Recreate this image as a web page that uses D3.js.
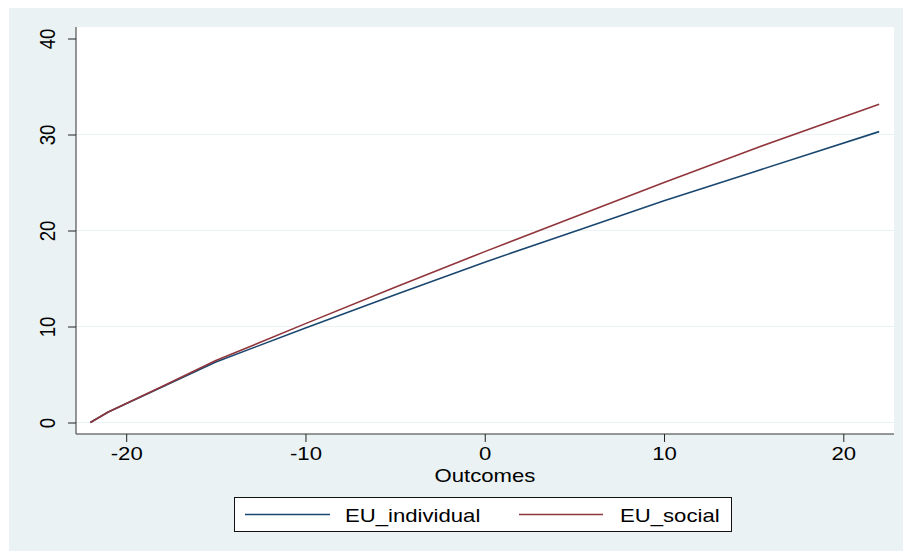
<!DOCTYPE html>
<html><head><meta charset="utf-8">
<script src="https://cdn.jsdelivr.net/npm/d3@7"></script>
<style>body{margin:0;background:#fff;}svg{display:block;font-family:"Liberation Sans",Arial,sans-serif;}</style>
</head><body><svg id="c" width="903" height="551"></svg>
<script>
const outcomes = [-22, -21, -18, -15, -10, -5, 0, 5, 10, 15, 22];
const euIndividual = [0, 1.1, 3.7, 6.3, 9.85, 13.3, 16.7, 19.9, 23.1, 26.1, 30.3];
const euSocial = [0, 1.1, 3.75, 6.45, 10.3, 14.1, 17.8, 21.4, 25.0, 28.5, 33.15];
const xTicks = [-20, -10, 0, 10, 20];
const yTicks = [0, 10, 20, 30, 40];
const gridTicks = [0, 10, 20, 30];
const seriesNames = ["EU_individual", "EU_social"];
const seriesColors = ["#1a476f", "#90353b"];

const SX = 1.19; // horizontal glyph stretch seen in the reference
const FS = 18.6;
const svg = d3.select("#c");
svg.append("rect").attr("x", 9).attr("y", 8).attr("width", 894).attr("height", 543).attr("fill", "#eaf2f3");
const L = 76, R = 894, T = 27, B = 434;
svg.append("rect").attr("x", L).attr("y", T).attr("width", R - L).attr("height", B - T).attr("fill", "#fff");

const x = d3.scaleLinear().domain([-20, 20]).range([126.2, 843.3]);
const y = d3.scaleLinear().domain([0, 40]).range([422.5, 38.5]);
const fmt = d => String(d); // hyphen-minus like the reference

// gridlines
svg.append("g").selectAll("line").data(gridTicks).join("line")
  .attr("x1", L).attr("x2", R).attr("y1", d => y(d)).attr("y2", d => y(d))
  .attr("stroke", "#eaf2f3").attr("stroke-width", 1.2);

// axes (ticks and domain drawn by d3, labels added with stretch)
const xa = svg.append("g").attr("transform", `translate(0,${B})`)
  .call(d3.axisBottom(x).tickValues(xTicks).tickSize(8).tickFormat(""));
xa.select(".domain").attr("d", `M${L},0H${R}`).attr("stroke", "#333");
xa.selectAll(".tick line").attr("stroke", "#222");
xa.selectAll(".tick").append("text")
  .attr("transform", `translate(0,${460 - B}) scale(${SX},1)`)
  .attr("text-anchor", "middle").attr("font-size", FS).attr("fill", "#000")
  .text(d => fmt(d));

const ya = svg.append("g").attr("transform", `translate(${L},0)`)
  .call(d3.axisLeft(y).tickValues(yTicks).tickSize(8).tickFormat(""));
ya.select(".domain").attr("d", `M0,${T}V${B}`).attr("stroke", "#333");
ya.selectAll(".tick line").attr("stroke", "#222");
ya.selectAll(".tick").append("text")
  .attr("transform", `translate(${47 - L},0) scale(${SX},1) rotate(-90)`)
  .attr("text-anchor", "middle").attr("dy", "0.36em").attr("font-size", FS).attr("fill", "#000")
  .text(d => fmt(d));

// axis title
svg.append("text").attr("transform", `translate(485,481.5) scale(${SX},1)`).attr("text-anchor", "middle")
  .attr("font-size", FS).attr("fill", "#000").text("Outcomes");

// lines
const seriesData = [euIndividual, euSocial];
const line = d3.line().x((d, i) => x(outcomes[i])).y(d => y(d));
svg.append("g").selectAll("path").data(seriesData).join("path")
  .attr("d", d => line(d)).attr("fill", "none")
  .attr("stroke", (d, i) => seriesColors[i]).attr("stroke-width", 1.6)
  .attr("stroke-linejoin", "round");

// legend
const lg = svg.append("g");
lg.append("rect").attr("x", 234.5).attr("y", 497.5).attr("width", 497).attr("height", 34)
  .attr("fill", "#fff").attr("stroke", "#111").attr("stroke-width", 1);
const legX = [[245, 330, 345], [519, 603, 620]];
seriesNames.forEach((n, i) => {
  lg.append("line").attr("x1", legX[i][0]).attr("x2", legX[i][1]).attr("y1", 514.5).attr("y2", 514.5)
    .attr("stroke", seriesColors[i]).attr("stroke-width", 1.3);
  lg.append("text").attr("transform", `translate(${legX[i][2]},521.5) scale(${SX},1)`)
    .attr("font-size", FS).attr("fill", "#000").text(n);
});
</script></body></html>
